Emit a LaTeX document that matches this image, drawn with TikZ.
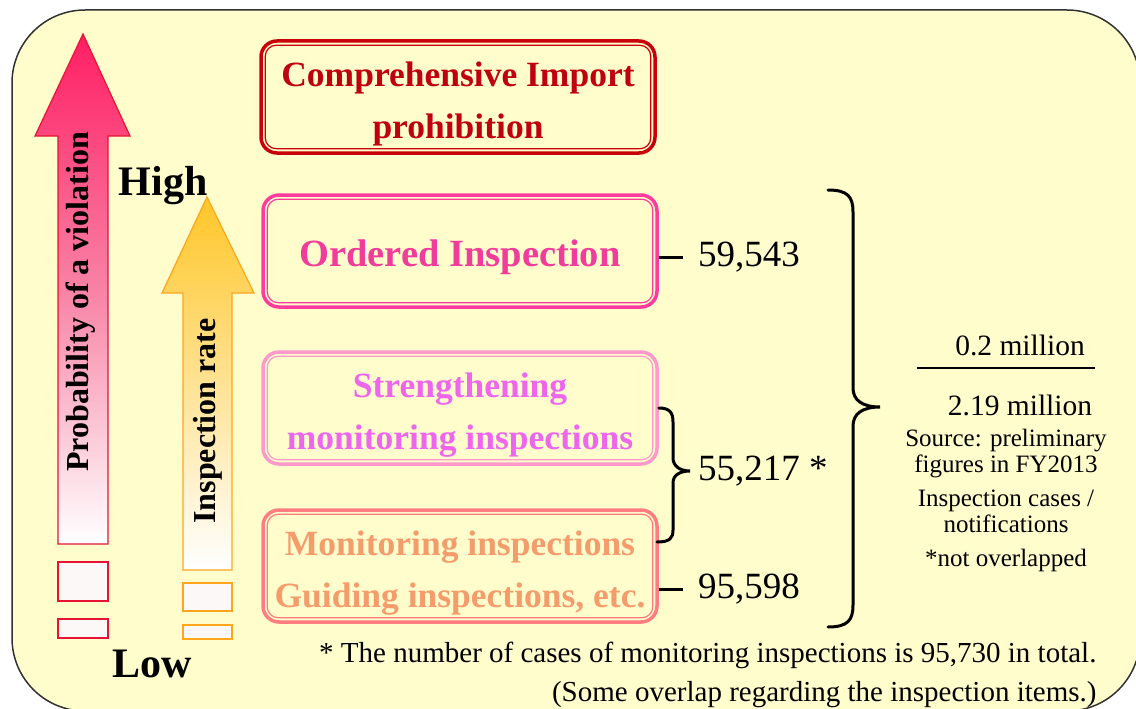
\documentclass[tikz,border=0pt]{standalone}
\usepackage{fontspec}
\setmainfont{Liberation Serif}
\definecolor{bgY}{RGB}{255,253,204}
\definecolor{frameC}{RGB}{50,50,50}
\definecolor{cA}{RGB}{200,0,10}
\definecolor{cAt}{RGB}{190,0,16}
\definecolor{cB}{RGB}{255,60,158}
\definecolor{cBt}{RGB}{240,60,155}
\definecolor{cC}{RGB}{255,153,204}
\definecolor{cCt}{RGB}{238,102,238}
\definecolor{cD}{RGB}{255,124,128}
\definecolor{cDt}{RGB}{244,156,108}
\definecolor{arR}{RGB}{255,30,100}
\definecolor{arRo}{RGB}{230,20,50}
\definecolor{arO}{RGB}{255,198,40}
\definecolor{arOo}{RGB}{255,165,30}
\definecolor{paleW}{RGB}{253,248,248}
\newcommand{\boxlines}[1]{\raisebox{-5pt}[\height][\depth]{\begin{tabular}{@{}c@{}}#1\end{tabular}}}
\begin{document}
\begin{tikzpicture}[x=1pt,y=-1pt,
  box/.style={draw=#1, line width=3.5pt, rounded corners=16pt, minimum width=394pt, minimum height=112pt, inner sep=0pt, font=\fontsize{35.5}{52}\selectfont\bfseries},
  innerline/.style={draw=#1, line width=1.2pt, rounded corners=11pt},
  num/.style={font=\fontsize{37}{40}\selectfont, anchor=west, inner ysep=0pt},
  conn/.style={line width=3pt, black},
  brace/.style={line width=3pt, black, line cap=round},
  frac/.style={font=\fontsize{29.5}{30}\selectfont},
  small/.style={font=\fontsize{25}{26}\selectfont, align=center},
  foot/.style={font=\fontsize{29}{30}\selectfont, anchor=east},
  big/.style={font=\fontsize{42}{42}\selectfont\bfseries, anchor=base},
  vlab/.style={rotate=90, font=\fontsize{32}{32}\selectfont\bfseries},
  lowbar/.style={fill=paleW, draw=#1, line width=1.5pt}
]
\useasboundingbox (0,0) rectangle (1136,709);
\clip (0,0) rectangle (1136,709);
% background frame
\draw[fill=bgY, draw=frameC, line width=1.5pt, rounded corners=73pt] (12,10) rectangle (1140,711);

% red arrow
\draw[arRo, line width=1.2pt, top color=arR, bottom color=white, middle color={rgb,255:red,248;green,130;blue,165}]
  (83,34) -- (130,136) -- (108,136) -- (108,544) -- (58,544) -- (58,136) -- (35,136) -- cycle;
\draw[lowbar=arRo] (58,562) rectangle (108,601);
\draw[lowbar=arRo] (58,619) rectangle (108,638);
% orange arrow
\draw[arOo, line width=1.2pt, top color=arO, bottom color=white]
  (207,197) -- (254,293) -- (232,293) -- (232,570) -- (183,570) -- (183,293) -- (162,293) -- cycle;
\draw[lowbar=arOo] (183,583) rectangle (232,611);
\draw[lowbar=arOo] (183,625) rectangle (232,639);

\node[vlab] (pv) at (81,302) {Probability of a violation};
\node[vlab] (ir) at (208,421) {Inspection rate};
\node[big] (hi) at (163,195) {High};
\node[big] (lo) at (152,677) {Low};

% boxes
\node[box=cA, text=cAt] (b1) at (458,97) {\boxlines{Comprehensive Import\\prohibition}};
\node[box=cB, text=cBt, font=\fontsize{38.5}{52}\selectfont\bfseries] (b2) at (460,251) {\boxlines{Ordered Inspection}};
\node[box=cC, text=cCt] (b3) at (460,408) {\boxlines{Strengthening\\monitoring inspections}};
\node[box=cD, text=cDt] (b4) at (460,566) {\boxlines{Monitoring inspections\\Guiding inspections, etc.}};
\foreach \n/\c in {b1/cA, b2/cB, b3/cC, b4/cD}
  \draw[innerline=\c] ([shift={(6pt,-6pt)}]\n.north west) rectangle ([shift={(-6pt,6pt)}]\n.south east);

% numbers and connectors
\node[num, inner xsep=15pt] (n1) at (683,257) {59,543};
\draw[conn] (n1.west -| b2.east) -- (n1.west);
\node[num, inner xsep=8pt] (n2) at (690,471) {55,217 *};
\node[num, inner xsep=15pt] (n3) at (683,589) {95,598};
\draw[conn] (n3.west -| b4.east) -- (n3.west);

% small brace
\coordinate (sbb) at (657,542);
\draw[brace] (b3.east) .. controls (670,408) and (673,413) .. (673,422) -- (673,458)
  .. controls (673,466) and (680,471) .. (n2.west)
  .. controls (680,471) and (673,475) .. (673,483) -- (673,530)
  .. controls (673,538) and (670,542) .. (sbb);

% big brace
\coordinate (bbt) at (828,190);
\coordinate (bbm) at (880,407);
\coordinate (bbb) at (828,627);
\draw[brace] (bbt) .. controls (848,190) and (853,197) .. (853,212) -- (853,388)
  .. controls (853,400) and (862,407) .. (bbm)
  .. controls (862,407) and (853,414) .. (853,426) -- (853,605)
  .. controls (853,620) and (848,627) .. (bbb);

% fraction
\node[frac] (f1) at (1020,345) {0.2 million};
\draw[line width=2pt] (917,368) -- (1095,368);
\node[frac] (f2) at (1020,405) {2.19 million};
\node[small] (src) at (1006,454) {Source: preliminary\\figures in FY2013};
\node[small] (ic) at (1006,511) {Inspection cases /\\notifications};
\node[small] (no) at (1006,560) {*not overlapped};

% footnote
\node[foot] (fn1) at (1100,655) {* The number of cases of monitoring inspections is 95,730 in total.};
\node[foot] (fn2) at (1100,695) {(Some overlap regarding the inspection items.)};
\end{tikzpicture}
\end{document}
